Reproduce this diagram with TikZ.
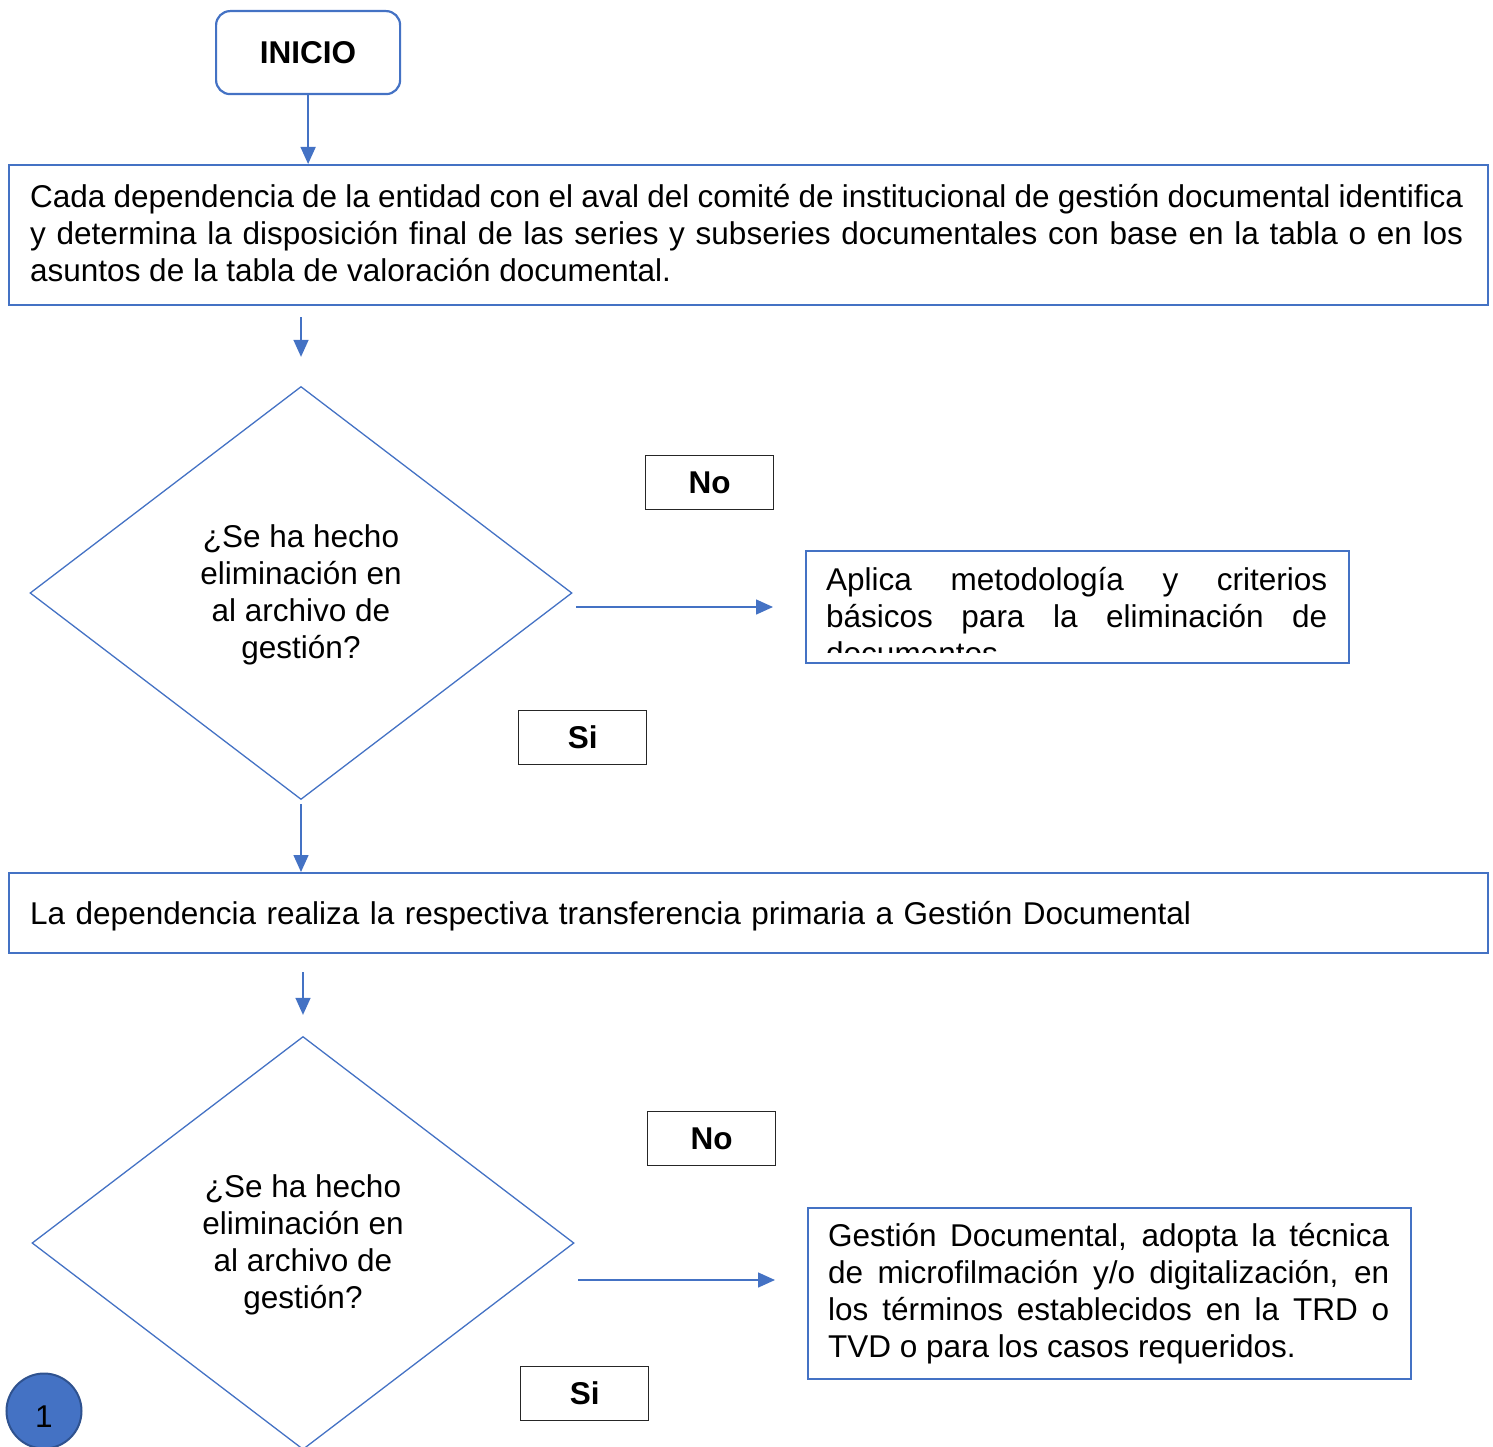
\documentclass[tikz,border=0pt]{standalone}
\usepackage{fontspec}
\setmainfont{Liberation Sans}
\usetikzlibrary{shapes.geometric,arrows.meta,calc}
\definecolor{flowblue}{HTML}{4472C4}
\definecolor{ringblue}{HTML}{2F528F}

\begin{document}
\begin{tikzpicture}[x=1pt,y=-1pt,
  txt/.style={font=\fontsize{31.5}{37}\selectfont},
  boldtxt/.style={font=\fontsize{31.5}{37}\selectfont\bfseries},
  stepbox/.style={draw=flowblue, line width=2.2pt, inner sep=0pt, anchor=north west},
  para/.style={txt, inner sep=0pt, anchor=north west, align=justify},
  decision/.style={diamond, draw=flowblue, line width=1.3pt, inner sep=0pt,
    minimum width=542pt, minimum height=413pt, aspect=1.31, txt, align=center},
  tag/.style={draw=black!85, line width=1.3pt, minimum width=128pt, minimum height=54pt,
    inner sep=0pt, anchor=north west, boldtxt},
  flow/.style={draw=flowblue, line width=1.5pt, -{Triangle[length=17pt,width=15pt]}},
]
\useasboundingbox (0,0) rectangle (1493,1447);
\clip (0,0) rectangle (1493,1447);

% start
\node[draw=flowblue, line width=2.2pt, rounded corners=14pt, minimum width=184pt,
  minimum height=83pt, anchor=north west, boldtxt] (start) at (215,10) {INICIO};

% first process step
\node[stepbox, minimum width=1479pt, minimum height=140pt] (b1) at (8,164) {};
\node[para, text width=1433pt] (t1) at (30,181) {\strut Cada dependencia de la entidad con el aval del comité de institucional de gestión documental identifica\linebreak y determina la disposición final de las series y subseries documentales con base en la tabla o en los\linebreak asuntos de la tabla de valoración documental.};

% first decision
\node[decision] (d1) at (301,593) {\strut¿Se ha hecho\\eliminación en\\al archivo de\\gestión?};
\node[tag] (no1) at (645,455) {No};
\node[tag] (si1) at (518,710) {Si};

% elimination step (text clipped by its frame)
\node[stepbox, minimum width=543pt, minimum height=112pt] (ap) at (805,550) {};
\begin{scope}
  \clip (806,551) rectangle (1347,652);
  \node[para, text width=501pt] (apt) at (826,564) {\strut Aplica metodología y criterios\linebreak básicos para la eliminación de\linebreak documentos.};
\end{scope}

% second process step
\node[stepbox, minimum width=1479pt, minimum height=80pt] (b2) at (8,872) {};
\node[para, text width=1433pt, align=left] (t2) at (30,898) {\strut La dependencia realiza la respectiva transferencia primaria a Gestión Documental};

% second decision
\node[decision] (d2) at (303,1243) {\strut¿Se ha hecho\\eliminación en\\al archivo de\\gestión?};
\node[tag] (no2) at (647,1111) {No};
\node[tag] (si2) at (520,1366) {Si};

% microfilming step
\node[stepbox, minimum width=603pt, minimum height=171pt] (g) at (807,1207) {};
\node[para, text width=561pt] (gt) at (828,1220) {\strut Gestión Documental, adopta la técnica\linebreak de microfilmación y/o digitalización, en\linebreak los términos establecidos en la TRD o\linebreak TVD o para los casos requeridos.};

% page connector
\node[circle, fill=flowblue, draw=ringblue, line width=2pt, minimum size=75pt,
  inner sep=0pt, text height=32pt, text depth=0pt, txt] (c1) at (44,1411) {1};

% connectors
\coordinate (n1) at (576,607);
\coordinate (n2) at (578,1280);
\draw[flow] (start.south) -- (start.south |- b1.north);
\draw[flow, shorten <=11pt, shorten >=29pt] (d1.north |- b1.south) -- (d1.north);
\draw[flow, shorten >=32pt] (n1) -- (n1 -| ap.west);
\draw[flow, shorten <=4pt] (d1.south) -- (d1.south |- b2.north);
\draw[flow, shorten <=18pt, shorten >=21pt] (d2.north |- b2.south) -- (d2.north);
\draw[flow, shorten >=32pt] (n2) -- (n2 -| g.west);
\end{tikzpicture}
\end{document}
